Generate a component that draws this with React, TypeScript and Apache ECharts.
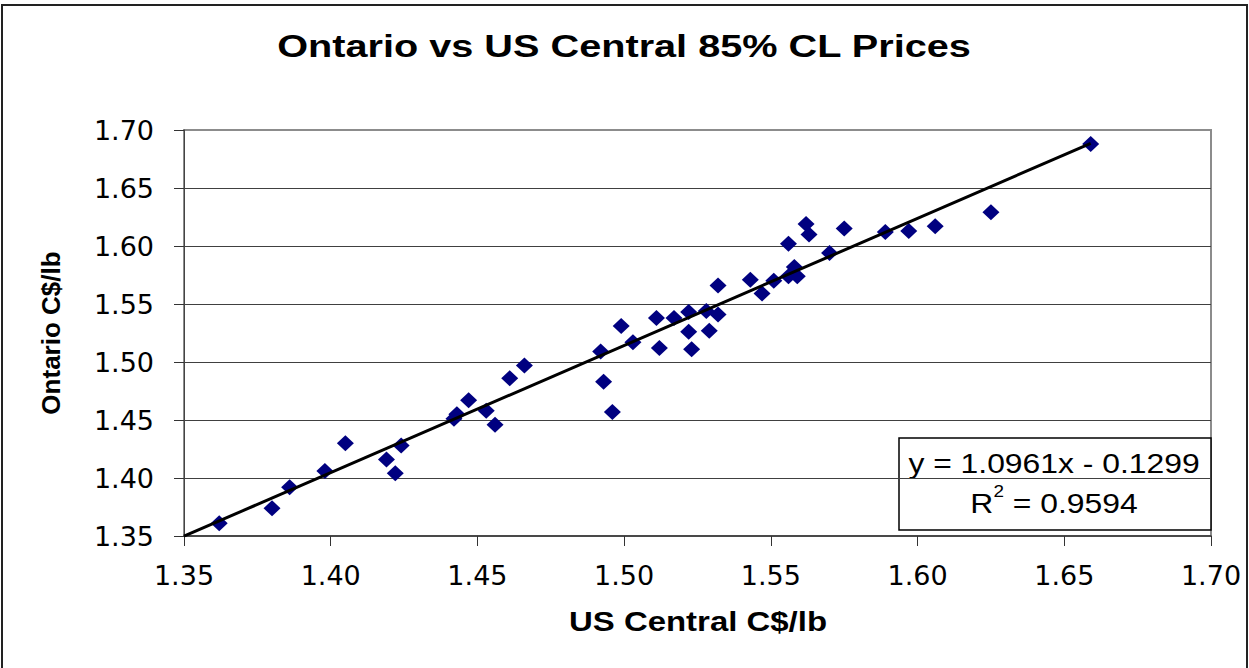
import React, { useEffect, useRef } from "react";
import * as echarts from "echarts";

// US Central C$/lb (x) vs Ontario C$/lb (y)
const usCentral = [
  1.362, 1.380, 1.386, 1.398, 1.405, 1.419, 1.422, 1.424, 1.442, 1.443,
  1.447, 1.453, 1.456, 1.461, 1.466, 1.492, 1.493, 1.496, 1.499, 1.503,
  1.511, 1.512, 1.517, 1.522, 1.522, 1.523, 1.528, 1.529, 1.532, 1.532,
  1.543, 1.547, 1.551, 1.556, 1.558, 1.559, 1.556, 1.562, 1.563, 1.570,
  1.575, 1.589, 1.597, 1.606, 1.625, 1.659,
];
const ontario = [
  1.361, 1.374, 1.392, 1.406, 1.430, 1.416, 1.404, 1.428, 1.451, 1.455,
  1.467, 1.458, 1.446, 1.486, 1.497, 1.509, 1.483, 1.457, 1.531, 1.517,
  1.538, 1.512, 1.538, 1.543, 1.526, 1.511, 1.544, 1.527, 1.541, 1.566,
  1.571, 1.559, 1.570, 1.574, 1.582, 1.574, 1.602, 1.619, 1.610, 1.594,
  1.615, 1.612, 1.613, 1.617, 1.629, 1.688,
];

const trendSlope = 1.0961;
const trendIntercept = -0.1299;
const rSquared = 0.9594;
const trendRange = [1.35, 1.659];

const axisMin = 1.35;
const axisMax = 1.7;
const axisStep = 0.05;

const titleText = "Ontario vs US Central 85% CL Prices";
const xName = "US Central C$/lb";
const yName = "Ontario C$/lb";

export default function App() {
  const ref = useRef<HTMLDivElement>(null);
  useEffect(() => {
    document.body.style.margin = "0";
    const chart = echarts.init(ref.current!, null, { renderer: "svg" });
    const labelStyle = {
      fontFamily: "DejaVu Sans",
      fontSize: 27,
      color: "#000",
      formatter: (v: number) => v.toFixed(2),
      showMinLabel: true,
      showMaxLabel: true,
    };
    chart.setOption({
      animation: false,
      backgroundColor: "#fff",
      grid: {
        left: 184,
        right: 38,
        top: 130,
        bottom: 132,
        show: true,
        borderColor: "#8c8c8c",
        borderWidth: 2,
      },
      xAxis: {
        type: "value",
        min: axisMin,
        max: axisMax,
        interval: axisStep,
        axisLine: { show: true, onZero: false, lineStyle: { color: "#333", width: 1.5 } },
        axisTick: { show: true, length: 10, lineStyle: { color: "#333", width: 1 } },
        axisLabel: { ...labelStyle, margin: 26 },
        splitLine: { show: false },
      },
      yAxis: {
        type: "value",
        min: axisMin,
        max: axisMax,
        interval: axisStep,
        name: yName,
        nameLocation: "middle",
        nameRotate: 90,
        nameGap: 120,
        nameTextStyle: {
          fontFamily: "Liberation Sans",
          fontWeight: "bold",
          fontSize: 26,
          color: "#000",
        },
        axisLine: { show: true, onZero: false, lineStyle: { color: "#444", width: 1 } },
        axisTick: { show: true, length: 10, lineStyle: { color: "#333", width: 1 } },
        axisLabel: { ...labelStyle, margin: 30 },
        splitLine: {
          show: true,
          showMinLine: false,
          showMaxLine: false,
          lineStyle: { color: "#404040", width: 1 },
        },
      },
      series: [
        {
          type: "scatter",
          data: usCentral.map((x, i) => [x, ontario[i]]),
          symbol: "diamond",
          symbolSize: [17, 16],
          itemStyle: { color: "#000080", opacity: 1 },
          z: 2,
        },
        {
          type: "line",
          data: trendRange.map((x) => [x, trendSlope * x + trendIntercept]),
          showSymbol: false,
          symbol: "none",
          silent: true,
          lineStyle: { color: "#000", width: 3 },
          z: 3,
        },
      ],
      graphic: [
        {
          type: "rect",
          shape: { x: 2, y: 5, width: 1245, height: 700 },
          style: { fill: "none", stroke: "#222", lineWidth: 2 },
          silent: true,
          z: 0,
        },
        {
          type: "text",
          x: 624,
          y: 47,
          scaleX: 1.28,
          style: {
            text: titleText,
            fontFamily: "Liberation Sans",
            fontWeight: "bold",
            fontSize: 31,
            fill: "#000",
            align: "center",
            verticalAlign: "middle",
            textAlign: "center",
            textVerticalAlign: "middle",
          },
        },
        {
          type: "text",
          x: 698,
          y: 622,
          scaleX: 1.22,
          style: {
            text: xName,
            fontFamily: "Liberation Sans",
            fontWeight: "bold",
            fontSize: 27,
            fill: "#000",
            align: "center",
            verticalAlign: "middle",
            textAlign: "center",
            textVerticalAlign: "middle",
          },
        },
        {
          type: "group",
          z: 20,
          children: [
            {
              type: "rect",
              shape: { x: 899, y: 438, width: 312, height: 92 },
              style: { fill: "#fff", stroke: "#000", lineWidth: 1.5 },
            },
            {
              type: "text",
              x: 1054,
              y: 463,
              scaleX: 1.18,
              style: {
                text: `y = ${trendSlope.toFixed(4)}x - ${Math.abs(trendIntercept).toFixed(4)}`,
                fontFamily: "Liberation Sans",
                fontSize: 27,
                fill: "#000",
                align: "center",
                verticalAlign: "middle",
                textAlign: "center",
                textVerticalAlign: "middle",
              },
            },
            {
              type: "text",
              x: 1054,
              y: 503,
              scaleX: 1.18,
              style: {
                text: `{a|R}{s|2}{a| = ${rSquared.toFixed(4)}}`,
                fill: "#000",
                align: "center",
                verticalAlign: "middle",
                textAlign: "center",
                textVerticalAlign: "middle",
                rich: {
                  a: {
                    fontFamily: "Liberation Sans",
                    fontSize: 27,
                    lineHeight: 38,
                    fill: "#000",
                    color: "#000",
                  },
                  s: {
                    fontFamily: "Liberation Sans",
                    fontSize: 16,
                    lineHeight: 16,
                    fill: "#000",
                    color: "#000",
                    verticalAlign: "top",
                  },
                },
              },
            },
          ],
        },
      ],
    });
    return () => chart.dispose();
  }, []);
  return <div ref={ref} style={{ width: 1249, height: 668 }} />;
}
